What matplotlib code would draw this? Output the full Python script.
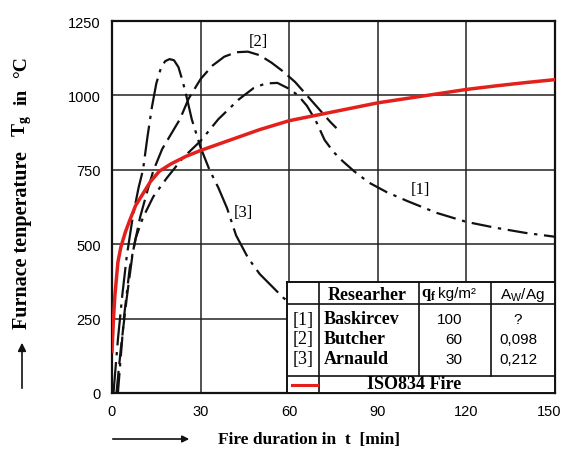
import matplotlib
matplotlib.use("Agg")
import matplotlib.pyplot as plt
from matplotlib.transforms import ScaledTranslation

plt.rcParams['mathtext.fontset'] = 'custom'
plt.rcParams['mathtext.rm'] = 'Liberation Sans'
plt.rcParams['mathtext.bf'] = 'Liberation Serif:bold'

SERIF = 'Liberation Serif'
SANS = 'Liberation Sans'

# ---- data (t in min, T in degC) ----
t_baskircev = [2, 4, 6, 8, 10.5, 14, 18.6, 24, 30, 36, 43, 48, 52, 56, 60, 63, 66, 69,
               72, 75, 78, 82, 87, 93, 100, 110, 120, 130, 140, 150]
T_baskircev = [0, 250, 420, 520, 590, 660, 723, 790, 847, 920, 987, 1025, 1040, 1042,
               1022, 1000, 965, 915, 850, 810, 780, 745, 707, 675, 645, 605, 575, 555,
               538, 525]

t_butcher = [1.5, 3, 5, 7, 9.5, 12, 14, 17, 20, 23, 26, 30, 34, 38, 42, 46, 50, 54, 58,
             62, 66, 70, 74, 76]
T_butcher = [0, 150, 320, 470, 590, 680, 747, 820, 870, 920, 990, 1055, 1100, 1130,
             1145, 1147, 1135, 1110, 1080, 1045, 1000, 955, 910, 890]

t_arnauld = [0.5, 2, 3.5, 5, 7, 9, 10.5, 12, 13.5, 15, 16.5, 18, 19.5, 21, 22.5, 24,
             25.5, 27, 30, 33, 36, 39, 42, 46, 50, 54, 58, 62]
T_arnauld = [0, 180, 330, 460, 590, 690, 750, 860, 960, 1040, 1090, 1115, 1122, 1118,
             1095, 1045, 985, 920, 825, 750, 690, 620, 530, 455, 400, 360, 320, 290]

t_iso = [0, 0.5, 1, 2, 3, 4.5, 6, 8, 10.5, 13, 16, 20, 25, 30, 40, 50, 60, 70, 80, 90,
         100, 110, 120, 130, 140, 150]
T_iso = [140, 250, 330, 440, 490, 540, 580, 630, 670, 710, 745, 770, 795, 815, 850, 885,
         915, 935, 955, 975, 990, 1005, 1020, 1032, 1043, 1053]

x_ticks = [0, 30, 60, 90, 120, 150]
y_ticks = [0, 250, 500, 750, 1000, 1250]

tab_ids = ['[1]', '[2]', '[3]']
tab_names = ['Baskircev', 'Butcher', 'Arnauld']
tab_q = ['100', '60', '30']
tab_a = ['?', '0,098', '0,212']

W, H = 565, 452
fig = plt.figure(figsize=(W / 100, H / 100), dpi=100)
ax = fig.add_axes([112 / W, 58 / H, 443 / W, 372 / H])

ink = '#111111'
ax.plot(t_baskircev, T_baskircev, color=ink, lw=1.6, ls=(0, (9, 3, 1.5, 3)))
ax.plot(t_butcher, T_butcher, color=ink, lw=1.6, ls=(0, (10, 3)))
ax.plot(t_arnauld, T_arnauld, color=ink, lw=1.6, ls=(0, (14, 3, 1.5, 3)))
ax.plot(t_iso, T_iso, color='#e3201b', lw=2.5, zorder=5)

ax.text(49.4, 1183, '[2]', fontfamily=SERIF, fontsize=12, ha='center', va='center')
ax.text(104.3, 685, '[1]', fontfamily=SERIF, fontsize=12, ha='center', va='center')
ax.text(44.4, 608, '[3]', fontfamily=SERIF, fontsize=12, ha='center', va='center')

ax.set_xlim(0, 150)
ax.set_ylim(0, 1250)
ax.set_xticks(x_ticks)
ax.set_yticks(y_ticks)
ax.tick_params(length=0, labelsize=10.5, pad=8)
for lab in ax.get_xticklabels() + ax.get_yticklabels():
    lab.set_fontfamily(SANS)
last = ax.get_xticklabels()[-1]
last.set_transform(last.get_transform() + ScaledTranslation(-4 / 72, 0, fig.dpi_scale_trans))
ax.grid(True, color='#222222', lw=1.1)
ax.set_axisbelow(True)
for s in ax.spines.values():
    s.set_linewidth(1.6)
    s.set_color(ink)

# ---- table in lower right ----
tax = fig.add_axes([287 / W, 58 / H, 268 / W, 111 / H], zorder=10)
tax.set_xlim(0, 268)
tax.set_ylim(111, 0)
tax.set_xticks([])
tax.set_yticks([])
for s in tax.spines.values():
    s.set_linewidth(1.4)
    s.set_color(ink)
tax.plot([0, 268], [22, 22], color=ink, lw=1.2)
tax.plot([0, 268], [94, 94], color=ink, lw=1.2)
tax.plot([32, 32], [0, 111], color=ink, lw=1.2)
tax.plot([132, 132], [0, 94], color=ink, lw=1.2)
tax.plot([204, 204], [0, 94], color=ink, lw=1.2)

tax.text(80, 12, 'Researher', fontfamily=SERIF, fontweight='bold', fontsize=13,
         ha='center', va='center')
tax.text(134, 11, r'$\mathbf{q}_\mathbf{f}$', fontsize=12, ha='left', va='center')
tax.text(151, 11, 'kg/m²', fontfamily=SANS, fontsize=11, ha='left', va='center')
tax.text(235, 12, r'$\mathrm{A}_\mathrm{W}\mathrm{/Ag}$', fontsize=11, ha='center',
         va='center')

for i in range(3):
    y = 37 + 20 * i
    tax.text(16, y, tab_ids[i], fontfamily=SERIF, fontsize=13, ha='center', va='center')
    tax.text(37, y, tab_names[i], fontfamily=SERIF, fontweight='bold', fontsize=13,
             ha='left', va='center')
    tax.text(175, y, tab_q[i], fontfamily=SANS, fontsize=11, ha='right', va='center')
    tax.text(231, y, tab_a[i], fontfamily=SANS, fontsize=11, ha='center', va='center')

tax.plot([5, 30], [103, 103], color='#e3201b', lw=2.2)
tax.text(127, 102, 'ISO834 Fire', fontfamily=SERIF, fontweight='bold', fontsize=13,
         ha='center', va='center')

# ---- axis labels with arrows ----
fig.text(218 / W, 1 - 440 / H, 'Fire duration in  t  [min]', fontfamily=SERIF,
         fontweight='bold', fontsize=12.5, ha='left', va='center')
fig.add_artist(matplotlib.patches.FancyArrowPatch(
    (110 / W, 1 - 440 / H), (192 / W, 1 - 440 / H), transform=fig.transFigure,
    arrowstyle='-|>', mutation_scale=10, color=ink, lw=1.2))

fig.text(22 / W, 1 - 240 / H, 'Furnace tenperature', fontfamily=SERIF,
         fontweight='bold', fontsize=14.5, rotation=90, ha='center', va='center')
fig.text(22 / W, 1 - 126 / H, r'$\mathbf{T}_\mathbf{g}$', fontsize=14, rotation=90,
         ha='center', va='center')
fig.text(22 / W, 1 - 97 / H, 'in', fontfamily=SERIF, fontweight='bold', fontsize=14,
         rotation=90, ha='center', va='center')
fig.text(22 / W, 1 - 67 / H, '°C', fontfamily=SERIF, fontweight='bold', fontsize=14,
         rotation=90, ha='center', va='center')
fig.add_artist(matplotlib.patches.FancyArrowPatch(
    (22 / W, 1 - 392 / H), (22 / W, 1 - 341 / H), transform=fig.transFigure,
    arrowstyle='-|>', mutation_scale=12, color=ink, lw=1.2))

fig.savefig('out.png', dpi=100)
